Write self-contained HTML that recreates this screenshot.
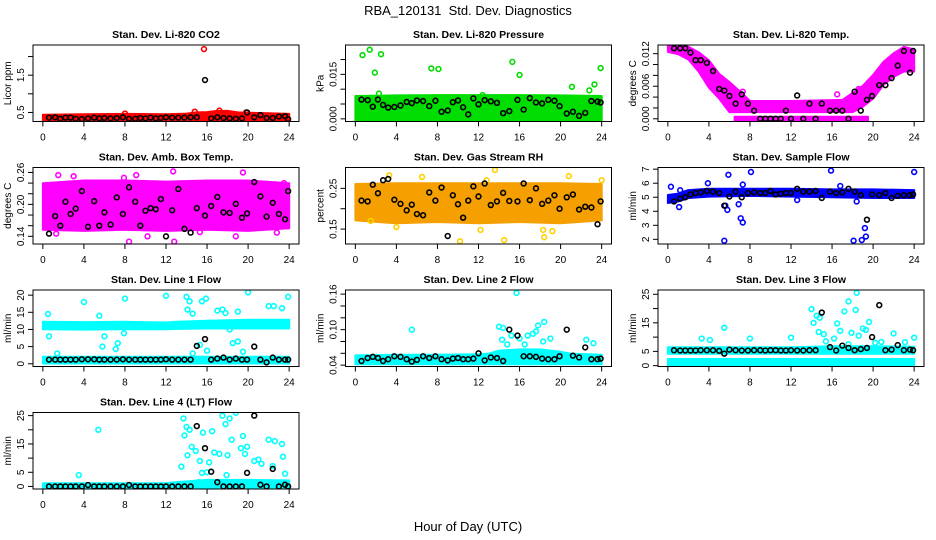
<!DOCTYPE html>
<html><head><meta charset="utf-8"><title>RBA_120131 Std. Dev. Diagnostics</title>
<style>
html,body{margin:0;padding:0;background:#fff;}
svg{display:block;font-family:"Liberation Sans",Arial,sans-serif;}
</style></head>
<body>
<svg id="chart" width="936" height="540" viewBox="0 0 936 540">
<text x="468" y="15" text-anchor="middle" font-size="13">RBA_120131&#160; Std. Dev. Diagnostics</text>
<text x="468" y="531" text-anchor="middle" font-size="13">Hour of Day (UTC)</text>
</svg>
<script>
// ---------- shared data ----------
const xTicks = [0,4,8,12,16,20,24];
const blackHours = [0.6,1.2,1.7,2.2,2.7,3.2,3.8,4.4,5.0,5.5,6.0,6.6,7.2,7.8,8.4,9.0,9.5,10.0,10.5,11.0,11.5,12.0,12.6,13.2,13.8,14.4,15.0,15.8,16.4,17.0,17.6,18.2,18.8,19.4,19.9,20.6,21.2,21.8,22.4,23.0,23.6,23.9];

// P1 CO2
const co2BandHours = [0,4,8,12,14,15,16,17,18,19,20,22,24];
const co2BandLo = [0.3,0.3,0.3,0.3,0.3,0.3,0.3,0.3,0.3,0.3,0.3,0.3,0.3];
const co2BandHi = [0.4,0.41,0.42,0.41,0.43,0.46,0.47,0.5,0.5,0.46,0.45,0.44,0.42];
const co2OutHours = [15.7,8.0,14.8,17.2,19.8];
const co2OutVals = [2.2,0.47,0.52,0.55,0.5];
const co2Black = [0.36,0.37,0.33,0.36,0.36,0.33,0.32,0.34,0.36,0.34,0.35,0.34,0.35,0.37,0.33,0.33,0.35,0.34,0.36,0.34,0.35,0.37,0.36,0.36,0.36,0.37,0.37,1.37,0.34,0.37,0.35,0.34,0.33,0.34,0.5,0.37,0.43,0.35,0.35,0.39,0.4,0.32];
const co2YTicks = [0.5,1.0,1.5,2.0];
const co2YLabels = ["0.5","","1.5",""];

// P2 Pressure
const presBandHours = [0,4,8,12,16,20,24];
const presBandLo = [0,0,0,0,0,0,0];
const presBandHi = [0.0072,0.0074,0.0075,0.0075,0.0075,0.0074,0.0072];
const presOutHours = [0.7,1.4,1.9,2.5,7.4,8.1,15.3,16.0,21.1,22.8,23.3,23.9,2.3,12.4];
const presOutVals = [0.0215,0.0233,0.0156,0.0218,0.017,0.0168,0.0192,0.0148,0.0108,0.0096,0.0116,0.0171,0.0085,0.008];
const presBlack = [0.0065,0.0063,0.0041,0.0065,0.0047,0.0038,0.004,0.0045,0.0057,0.0053,0.0062,0.006,0.0043,0.0061,0.0024,0.0028,0.0056,0.0062,0.0039,0.0015,0.0069,0.0049,0.0063,0.0059,0.0054,0.0019,0.0026,0.0064,0.0031,0.007,0.0055,0.0052,0.0064,0.0061,0.0043,0.0018,0.0024,0.001,0.002,0.006,0.0058,0.0055];
const presYTicks = [0,0.005,0.01,0.015,0.02];
const presYLabels = ["0.000","","","0.015",""];

// P3 Temp
const tempBandHours = [0,1,2,3,4,5,6,7,8,12,17,18,19,20,21,22,23,24];
const tempBandLo = [0.0126,0.0122,0.0112,0.009,0.006,0.004,0.0015,0.0015,0.0015,0.0015,0.0015,0.0015,0.0025,0.004,0.0065,0.008,0.009,0.009];
const tempBandHi = [0.0136,0.0136,0.013,0.012,0.0105,0.008,0.0065,0.0048,0.003,0.003,0.0032,0.0045,0.0058,0.0078,0.0102,0.0118,0.013,0.0125];
const tempZeroHours = [6.5,19.5];
const tempZeroLo = [-0.0001,-0.0001];
const tempZeroHi = [0.0001,0.0001];
const tempOutHours = [6.0,7.3,16.5,18.6,5.2];
const tempOutVals = [0.0042,0.005,0.0045,0.0055,0.0075];
const tempBlack = [0.013,0.013,0.013,0.0122,0.0108,0.0108,0.0103,0.0088,0.0055,0.0052,0.0042,0.0028,0.0045,0.0028,0.0015,0,0,0,0,0,0.0015,0,0.0043,0,0.0028,0,0.0028,0.0015,0.0015,0.0015,0,0.005,0.0015,0.0035,0.0042,0.0062,0.0062,0.0075,0.0098,0.0125,0.0085,0.0125];
const tempYTicks = [0,0.002,0.004,0.006,0.008,0.01,0.012];
const tempYLabels = ["0.000","","","0.006","","","0.012"];

// P4 Amb box temp
const ambBandHours = [0,4,8,12,16,20,24];
const ambBandLo = [0.155,0.153,0.155,0.153,0.155,0.153,0.158];
const ambBandHi = [0.237,0.242,0.242,0.24,0.242,0.242,0.237];
const ambOutHours = [0.3,1.3,1.5,8.4,9.1,10.2,12.7,12.8,19.5,23.5,22.8,15.3,18.8,7.9,3.0];
const ambOutVals = [0.23,0.145,0.255,0.13,0.255,0.14,0.262,0.13,0.26,0.24,0.147,0.148,0.14,0.25,0.253];
const ambBlack = [0.145,0.178,0.16,0.205,0.182,0.192,0.225,0.158,0.206,0.16,0.185,0.162,0.213,0.182,0.232,0.205,0.16,0.188,0.193,0.191,0.21,0.14,0.189,0.229,0.154,0.147,0.193,0.179,0.197,0.214,0.185,0.184,0.201,0.175,0.183,0.242,0.215,0.177,0.203,0.182,0.172,0.225];
const ambYTicks = [0.14,0.16,0.18,0.20,0.22,0.24,0.26];
const ambYLabels = ["0.14","","","0.20","","","0.26"];

// P5 RH
const rhBandHours = [0,4,8,12,16,20,24];
const rhBandLo = [0.175,0.168,0.171,0.168,0.171,0.168,0.175];
const rhBandHi = [0.257,0.259,0.259,0.259,0.259,0.259,0.257];
const rhOutHours = [13.6,10.2,14.5,18.4,3.3,6.5,20.8,12.8,24.0,1.5,18.3,19.2,4.0,12.2];
const rhOutVals = [0.295,0.12,0.123,0.13,0.282,0.278,0.28,0.27,0.27,0.17,0.148,0.145,0.155,0.148];
const rhBlack = [0.22,0.218,0.259,0.238,0.27,0.273,0.222,0.212,0.196,0.21,0.187,0.184,0.24,0.22,0.252,0.133,0.233,0.211,0.178,0.22,0.255,0.23,0.262,0.209,0.218,0.239,0.219,0.218,0.262,0.221,0.25,0.212,0.22,0.233,0.2,0.228,0.235,0.198,0.205,0.203,0.162,0.218];
const rhYTicks = [0.15,0.20,0.25];
const rhYLabels = ["0.15","","0.25"];

// P6 Sample flow
const sfBandHours = [0,1,2,4,8,12,16,20,24];
const sfBandLo = [4.7,4.8,5.05,5.15,5.2,5.15,5.1,5.05,5.05];
const sfBandHi = [5.05,5.15,5.4,5.5,5.5,5.5,5.45,5.45,5.4];
const sfOutHours = [0.3,1.1,1.2,3.9,5.5,5.6,5.8,5.9,6.9,7.1,7.3,7.3,8.1,15.9,16.8,18.1,18.9,19.2,19.3,24.0,18.4,12.6];
const sfOutVals = [5.75,4.3,5.5,6.0,1.9,4.4,4.1,6.6,4.5,3.5,3.2,5.9,6.8,6.9,5.8,1.9,1.95,2.8,2.2,6.8,4.7,4.8];
const sfBlack = [4.7,4.9,5.0,5.2,5.3,5.35,5.45,5.4,5.3,4.4,5.05,5.4,5.0,5.3,5.35,5.3,5.3,5.45,5.2,5.25,5.3,5.3,5.6,5.4,5.4,5.45,4.95,5.4,5.3,5.35,5.6,5.4,5.15,3.4,5.2,5.15,5.3,4.95,5.1,5.15,5.15,5.2];
const sfYTicks = [2,3,4,5,6,7];
const sfYLabels = ["2","3","4","5","6","7"];

// P7 Line 1
const l1BandHours = [0,4,8,12,13,16,20,24];
const l1BandLo = [10.5,10.4,10.5,10.5,10.6,10.7,10.7,10.7];
const l1BandHi = [11.8,11.7,11.8,11.6,11.8,12.1,12.4,12.4];
const l1LowHours = [0,24];
const l1LowLo = [0.5,0.5];
const l1LowHi = [1.6,1.6];
const l1OutHours = [0.5,0.6,4.0,5.5,5.8,6.0,7.1,7.3,7.9,8.0,12.0,14.0,14.3,14.1,14.6,15.5,15.9,15.3,17.0,17.5,17.8,18.5,19.0,19.0,20.0,22.0,22.5,23.3,23.9,18.2,16.0,19.5,14.6,1.4];
const l1OutVals = [14.5,8,18,14,5,8,4.3,6,8.9,19,19.8,19.5,18.2,15.8,14.6,18.2,19,5.5,15.5,15.8,14.8,6,6.5,15.2,20.8,16.8,16.8,16.2,19.5,10,3.8,3.5,3,3];
const l1Black = [1.2,1.2,1.2,1.2,1.2,1.2,1.3,1.3,1.3,1.2,1.2,1.2,1.2,1.3,1.2,1.2,1.2,1.2,1.2,1.2,1.2,1.3,1.2,1.2,1.2,1.2,5.2,7.2,1.2,1.5,1.8,1.2,1.5,1.2,1.2,5.0,1.2,0.4,1.8,1.2,1.2,1.2];
const l1YTicks = [0,5,10,15,20];
const l1YLabels = ["0","5","10","15","20"];

// P8 Line 2
const l2BandHours = [0,4,8,12,13,14,16,18,20,21,24];
const l2BandLo = [0.044,0.044,0.044,0.044,0.044,0.044,0.044,0.044,0.044,0.044,0.044];
const l2BandHi = [0.054,0.055,0.055,0.056,0.057,0.062,0.064,0.064,0.06,0.057,0.055];
const l2OutHours = [5.5,14.0,14.4,15.7,18.4,17.8,17.6,14.3,15.2,16.0,16.8,17.3,19.0,22.5,23.2,14.8,16.5,18.3];
const l2OutVals = [0.10,0.105,0.103,0.162,0.113,0.107,0.097,0.083,0.09,0.085,0.09,0.093,0.085,0.083,0.077,0.075,0.075,0.08];
const l2Black = [0.047,0.052,0.054,0.052,0.047,0.05,0.055,0.054,0.05,0.046,0.049,0.055,0.052,0.055,0.05,0.048,0.051,0.052,0.05,0.05,0.051,0.06,0.048,0.053,0.052,0.047,0.1,0.09,0.055,0.055,0.054,0.051,0.05,0.05,0.055,0.1,0.056,0.053,0.07,0.05,0.05,0.051];
const l2YTicks = [0.04,0.06,0.08,0.10,0.12,0.14,0.16];
const l2YLabels = ["0.04","","","0.10","","","0.16"];

// P9 Line 3
const l3BandHours = [0,4,8,12,14,16,20,24];
const l3BandLo = [4.7,4.7,4.7,4.7,4.7,4.7,4.7,4.7];
const l3BandHi = [5.9,5.9,5.9,5.9,6.1,6.3,6.3,6.1];
const l3LowHours = [0,24];
const l3LowLo = [0.7,0.7];
const l3LowHi = [1.8,1.8];
const l3OutHours = [3.3,4.1,5.5,8.0,12.0,14.0,14.2,14.5,14.8,14.7,15.2,16.5,16.8,17.2,17.6,17.6,17.9,18.4,18.3,18.6,19.0,19.3,19.6,20.2,20.8,22.0,23.1,24.0,16.2,15.4];
const l3OutVals = [9.5,9,13.3,9.5,9.8,19.8,15,17.5,16.8,11.8,11,14.8,12.2,19,22.5,7.5,11.5,25.5,19.5,10.5,13,12.5,15.3,8,8.3,11.3,8.2,9.8,9.5,8.5];
const l3Black = [5.4,5.3,5.3,5.3,5.3,5.4,5.4,5.4,5.2,4.2,5.6,5.4,5.3,5.3,5.4,5.4,5.3,5.4,5.4,5.3,5.3,5.4,5.3,5.3,5.4,5.4,18.6,6.5,5.3,7.0,6.2,5.4,5.8,6.2,10.0,21.2,5.4,5.6,7.2,5.4,5.6,5.4];
const l3YTicks = [0,5,10,15,20,25];
const l3YLabels = ["0","5","","15","","25"];

// P10 Line 4
const l4BandHours = [0,4,8,12,13,16,20,24];
const l4BandLo = [0,0,0,0,0,0,0,0];
const l4BandHi = [0.6,0.6,0.6,0.6,1.0,1.8,1.8,1.6];
const l4OutHours = [3.5,5.4,13.5,13.7,13.8,14.0,14.1,14.3,14.5,14.9,15.3,15.6,16.0,16.5,16.7,17.2,17.5,17.8,18.0,18.2,18.4,18.8,19.3,19.5,19.7,19.9,20.6,21.0,21.3,22.0,22.4,22.6,23.3,23.4,23.6,16.2,15.5,17.9,15.2];
const l4OutVals = [4,20,7,24,18,21,11,20,14,12.5,9,19,5,19.5,12,11.5,25,22,11,24,16.5,26,13.5,17.8,11.5,14,9,9.5,8,16.5,7.2,16,15,10.5,4.5,8.5,4.8,4,1.5];
const l4Black = [0,0,0,0,0,0,0,0.5,0,0,0,0,0,0,0.5,0,0,0,0,0,0,0,0,0,0,0,21.3,13.5,5.2,1.5,0,0,0,0,4.8,25,0.6,0,6.2,0,0.6,0];
const l4YTicks = [0,5,10,15,20,25];
const l4YLabels = ["0","5","","15","","25"];

// ---------- layout ----------
const colLeft = [33, 345.5, 658];
const rowTop = [45, 167.5, 290, 412.5];
const boxW = 266, boxH = 76.5;
const NS = "http://www.w3.org/2000/svg";
const svg = document.getElementById('chart');

function mk(tag, attrs, parent){
  const e = document.createElementNS(NS, tag);
  for (const k in attrs) e.setAttribute(k, attrs[k]);
  (parent||svg).appendChild(e);
  return e;
}

const panels = [
 {key:'co2', title:'Stan. Dev. Li-820 CO2', ylab:'Licor ppm', col:0,row:0, ymin:0.257, ymax:2.31, color:'#ff0000',
  bands:[[co2BandHours,co2BandLo,co2BandHi]], outH:co2OutHours, outV:co2OutVals, black:co2Black, yt:co2YTicks, yl:co2YLabels},
 {key:'pressure', title:'Stan. Dev. Li-820 Pressure', ylab:'kPa', col:1,row:0, ymin:-0.0009, ymax:0.0249, color:'#00dd00',
  bands:[[presBandHours,presBandLo,presBandHi]], outH:presOutHours, outV:presOutVals, black:presBlack, yt:presYTicks, yl:presYLabels},
 {key:'temp', title:'Stan. Dev. Li-820 Temp.', ylab:'degrees C', col:2,row:0, ymin:-0.0005, ymax:0.0136, color:'#ff00ff',
  bands:[[tempBandHours,tempBandLo,tempBandHi],[tempZeroHours,tempZeroLo,tempZeroHi]], outH:tempOutHours, outV:tempOutVals, black:tempBlack, yt:tempYTicks, yl:tempYLabels},
 {key:'amb-temp', title:'Stan. Dev. Amb. Box Temp.', ylab:'degrees C', col:0,row:1, ymin:0.1256, ymax:0.2693, color:'#ff00ff',
  bands:[[ambBandHours,ambBandLo,ambBandHi]], outH:ambOutHours, outV:ambOutVals, black:ambBlack, yt:ambYTicks, yl:ambYLabels},
 {key:'rh', title:'Stan. Dev. Gas Stream RH', ylab:'percent', col:1,row:1, ymin:0.1134, ymax:0.3012, color:'#f5a000', outColor:'#ffd000',
  bands:[[rhBandHours,rhBandLo,rhBandHi]], outH:rhOutHours, outV:rhOutVals, black:rhBlack, yt:rhYTicks, yl:rhYLabels},
 {key:'sample-flow', title:'Stan. Dev. Sample Flow', ylab:'ml/min', col:2,row:1, ymin:1.667, ymax:7.12, color:'#0000ff',
  bands:[[sfBandHours,sfBandLo,sfBandHi]], outH:sfOutHours, outV:sfOutVals, black:sfBlack, yt:sfYTicks, yl:sfYLabels},
 {key:'line1', title:'Stan. Dev. Line 1 Flow', ylab:'ml/min', col:0,row:2, ymin:-0.8, ymax:21.5, color:'#00ffff',
  bands:[[l1BandHours,l1BandLo,l1BandHi],[l1LowHours,l1LowLo,l1LowHi]], outH:l1OutHours, outV:l1OutVals, black:l1Black, yt:l1YTicks, yl:l1YLabels},
 {key:'line2', title:'Stan. Dev. Line 2 Flow', ylab:'ml/min', col:1,row:2, ymin:0.0377, ymax:0.167, color:'#00ffff',
  bands:[[l2BandHours,l2BandLo,l2BandHi]], outH:l2OutHours, outV:l2OutVals, black:l2Black, yt:l2YTicks, yl:l2YLabels},
 {key:'line3', title:'Stan. Dev. Line 3 Flow', ylab:'ml/min', col:2,row:2, ymin:-0.3, ymax:26.5, color:'#00ffff',
  bands:[[l3BandHours,l3BandLo,l3BandHi],[l3LowHours,l3LowLo,l3LowHi]], outH:l3OutHours, outV:l3OutVals, black:l3Black, yt:l3YTicks, yl:l3YLabels},
 {key:'line4', title:'Stan. Dev. Line 4 (LT) Flow', ylab:'ml/min', col:0,row:3, ymin:-0.9, ymax:26.1, color:'#00ffff',
  bands:[[l4BandHours,l4BandLo,l4BandHi]], outH:l4OutHours, outV:l4OutVals, black:l4Black, yt:l4YTicks, yl:l4YLabels}
];

panels.forEach(p => {
  const L = colLeft[p.col], T = rowTop[p.row];
  const xs = h => L + 9.85 + h * (boxW - 19.7) / 24;
  const ys = v => T + boxH - (v - p.ymin) / (p.ymax - p.ymin) * boxH;
  const g = mk('g', {});
  
  
  const clipId = 'clip-' + p.key;
  const cp = mk('clipPath', {id: clipId}, g);
  mk('rect', {x:L, y:T, width:boxW, height:boxH}, cp);
  const plot = mk('g', {'clip-path':'url(#'+clipId+')'}, g);
  
  

  p.bands.forEach(b => {
    const [hs, lo, hi] = b;
    let pts = [];
    for (let i=0;i<hs.length;i++) pts.push(xs(hs[i]).toFixed(1)+','+(ys(hi[i])-1.5).toFixed(1));
    for (let i=hs.length-1;i>=0;i--) pts.push(xs(hs[i]).toFixed(1)+','+(ys(lo[i])+1.5).toFixed(1));
    const poly = mk('polygon', {points: pts.join(' '), fill: p.color, stroke: p.color, 'stroke-width': 2, 'stroke-linejoin':'round'}, plot);
    
    
  });
  for (let i=0;i<p.outH.length;i++){
    const c = mk('circle', {cx: xs(p.outH[i]), cy: ys(p.outV[i]), r: 2.4, fill:'none', stroke: p.outColor || p.color, 'stroke-width': 1.6}, plot);
    
    
  }
  for (let i=0;i<blackHours.length;i++){
    const c = mk('circle', {cx: xs(blackHours[i]), cy: ys(p.black[i]), r: 2.4, fill:'none', stroke:'#000', 'stroke-width': 1.6}, plot);
    
    
  }
  const box = mk('rect', {x:L, y:T, width:boxW, height:boxH, fill:'none', stroke:'#000', 'stroke-width':1}, g);
  
  
  const t = mk('text', {x: L + boxW/2, y: T - 7, 'text-anchor':'middle', 'font-size': 10.5, 'font-weight':'bold'}, g);
  t.textContent = p.title;
  
  
  const xa = mk('g', {}, g);
  
  
  mk('line', {x1: xs(0), x2: xs(24), y1: T+boxH, y2: T+boxH, stroke:'#000'}, xa);
  xTicks.forEach(v => {
    mk('line', {x1: xs(v), x2: xs(v), y1: T+boxH, y2: T+boxH+5, stroke:'#000'}, xa);
    const tl = mk('text', {x: xs(v), y: T+boxH+19, 'text-anchor':'middle', 'font-size': 10}, xa);
    tl.textContent = v;
    
    
  });
  const ya = mk('g', {}, g);
  
  
  mk('line', {x1: L, x2: L, y1: ys(p.yt[0]), y2: ys(p.yt[p.yt.length-1]), stroke:'#000'}, ya);
  p.yt.forEach((v,i) => {
    mk('line', {x1: L-5, x2: L, y1: ys(v), y2: ys(v), stroke:'#000'}, ya);
    if (p.yl[i]) {
      const yy = ys(v), xx = L - 9;
      const tl = mk('text', {x: xx, y: yy, 'text-anchor':'middle', 'font-size': 10, transform:'rotate(-90 '+xx+' '+yy+')'}, ya);
      tl.textContent = p.yl[i];
      
      
    }
  });
  const yx = L - 22, yy = T + boxH/2;
  const yt = mk('text', {x: yx, y: yy, 'text-anchor':'middle', 'font-size': 10, transform:'rotate(-90 '+yx+' '+yy+')'}, g);
  yt.textContent = p.ylab;
  
  
});
</script>
</body></html>
